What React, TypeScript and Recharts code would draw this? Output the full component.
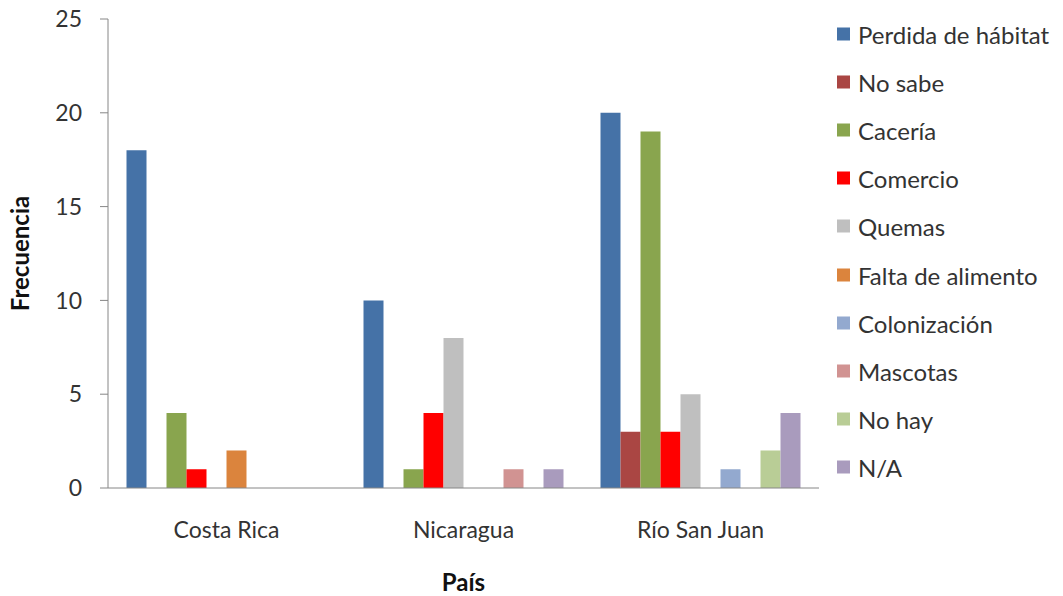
import { Bar, BarChart, XAxis, YAxis } from "recharts";

const paises = ["Costa Rica", "Nicaragua", "Río San Juan"];

const perdidaHabitat = [18, 10, 20];
const noSabe = [0, 0, 3];
const caceria = [4, 1, 19];
const comercio = [1, 4, 3];
const quemas = [0, 8, 5];
const faltaAlimento = [2, 0, 0];
const colonizacion = [0, 0, 1];
const mascotas = [0, 1, 0];
const noHay = [0, 0, 2];
const noAplica = [0, 1, 4];

const yTicks = [0, 5, 10, 15, 20, 25];

const series = [
  { key: "Perdida de hábitat", values: perdidaHabitat, color: "#4572A7" },
  { key: "No sabe", values: noSabe, color: "#AA4643" },
  { key: "Cacería", values: caceria, color: "#89A54E" },
  { key: "Comercio", values: comercio, color: "#FF0000" },
  { key: "Quemas", values: quemas, color: "#BFBFBF" },
  { key: "Falta de alimento", values: faltaAlimento, color: "#DB843D" },
  { key: "Colonización", values: colonizacion, color: "#93A9CF" },
  { key: "Mascotas", values: mascotas, color: "#D19392" },
  { key: "No hay", values: noHay, color: "#B9CD96" },
  { key: "N/A", values: noAplica, color: "#A99BBD" }
];

const data = paises.map((pais, i) => {
  const row: Record<string, string | number> = { pais };
  series.forEach((s) => {
    row[s.key] = s.values[i];
  });
  return row;
});

const FONT = "Lato, 'Open Sans', sans-serif";
const TEXT = "#333333";
const AXIS = "#868686";

export default function App() {
  return (
    <div
      style={{
        position: "absolute",
        left: 0,
        top: 0,
        width: 1063,
        height: 596,
        background: "#fff",
        fontFamily: FONT
      }}
    >
      <BarChart
        width={1063}
        height={596}
        data={data}
        margin={{ top: 19, right: 244, bottom: 0, left: 0 }}
        barCategoryGap={18.5}
        barGap={0}
      >
        <XAxis
          dataKey="pais"
          height={108}
          tickLine={false}
          stroke={AXIS}
          tickMargin={28}
          tick={{ fill: TEXT, fontSize: 23, fontFamily: FONT }}
          label={{
            value: "País",
            position: "insideBottom",
            offset: 5,
            fill: "#111",
            fontSize: 24,
            fontWeight: 700,
            fontFamily: FONT
          }}
        />
        <YAxis
          width={108}
          domain={[0, 25]}
          ticks={yTicks}
          stroke={AXIS}
          tickSize={8}
          tickMargin={18}
          tick={{ fill: TEXT, fontSize: 23, fontFamily: FONT }}
          label={{
            value: "Frecuencia",
            angle: -90,
            position: "insideLeft",
            offset: 20,
            style: { textAnchor: "middle" },
            fill: "#111",
            fontSize: 24,
            fontWeight: 700,
            fontFamily: FONT
          }}
        />
        {series.map((s) => (
          <Bar key={s.key} dataKey={s.key} fill={s.color} isAnimationActive={false} />
        ))}
      </BarChart>
      <div style={{ position: "absolute", left: 837, top: 34 }}>
        {series.map((s, i) => (
          <div
            key={s.key}
            style={{
              position: "absolute",
              left: 0,
              top: i * 48.1,
              transform: "translateY(-50%)",
              display: "flex",
              alignItems: "center",
              whiteSpace: "nowrap",
              fontSize: 24,
              color: TEXT
            }}
          >
            <span
              style={{
                display: "inline-block",
                width: 13,
                height: 13,
                background: s.color,
                marginRight: 8
              }}
            />
            {s.key}
          </div>
        ))}
      </div>
    </div>
  );
}
